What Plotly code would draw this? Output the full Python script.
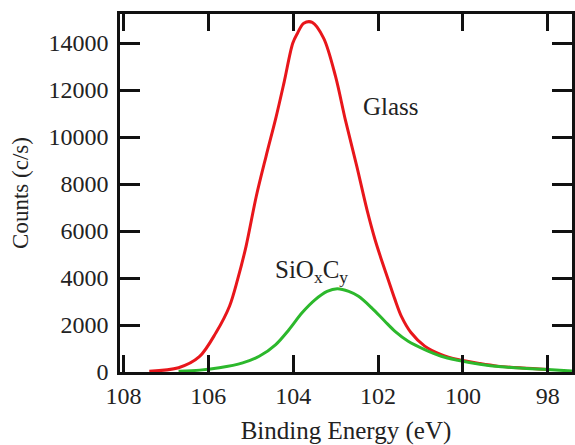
import plotly.graph_objects as go

# Glass spectrum (red)
glass_energy = [107.39, 106.70, 106.21, 105.82, 105.50, 105.31, 105.11, 104.87, 104.64, 104.40,
                104.21, 104.01, 103.90, 103.75, 103.55, 103.28, 103.00, 102.77, 102.50, 102.26,
                102.07, 101.92, 101.76, 101.60, 101.45, 101.22, 100.90, 100.51, 100.12, 99.60,
                99.18, 98.60, 98.00]
glass_counts = [30, 180, 650, 1670, 2800, 3930, 5350, 7470, 9170, 10870,
                12360, 13990, 14410, 14840, 14880, 14200, 12570, 10730, 8750, 6900,
                5630, 4780, 3930, 3080, 2370, 1670, 1100, 740, 530, 360,
                250, 170, 110]

# SiOxCy spectrum (green)
sioc_energy = [106.70, 106.20, 105.74, 105.19, 104.80, 104.41, 104.10, 103.79, 103.48, 103.20,
               102.96, 102.69, 102.46, 102.15, 101.84, 101.60, 101.29, 100.90, 100.51, 100.12,
               99.60, 99.10, 98.50, 98.00, 97.43]
sioc_counts = [30, 80, 180, 390, 670, 1170, 1800, 2520, 3080, 3430,
               3540, 3430, 3220, 2730, 2160, 1730, 1310, 955, 670, 500,
               330, 220, 150, 106, 40]

x_ticks = [108, 106, 104, 102, 100, 98]
y_ticks = [0, 2000, 4000, 6000, 8000, 10000, 12000, 14000]

FONT = "Liberation Serif, Times New Roman, serif"
TXT = "#222222"

fig = go.Figure()
fig.add_trace(go.Scatter(x=glass_energy, y=glass_counts, mode="lines",
                         line=dict(color="#e8161b", width=3, shape="spline", smoothing=0.9),
                         name="Glass", showlegend=False))
fig.add_trace(go.Scatter(x=sioc_energy, y=sioc_counts, mode="lines",
                         line=dict(color="#2cb82c", width=3, shape="spline", smoothing=0.9),
                         name="SiOxCy", showlegend=False))

fig.add_annotation(x=101.70, y=11283, text="Glass", showarrow=False,
                   font=dict(family=FONT, size=25, color=TXT))
fig.add_annotation(x=103.56, y=4270, text="SiO<sub>x</sub>C<sub>y</sub>", showarrow=False,
                   font=dict(family=FONT, size=25, color=TXT))

fig.update_layout(
    width=575, height=445,
    margin=dict(l=120, r=0, t=14, b=73),
    paper_bgcolor="white", plot_bgcolor="white",
    font=dict(family=FONT, size=22, color=TXT),
    xaxis=dict(range=[108.08, 97.43], tickvals=x_ticks, ticktext=[str(v) for v in x_ticks],
               ticks="inside", ticklen=17, tickwidth=2.5, tickcolor="#111",
               showline=True, linewidth=2.5, linecolor="#111", mirror="ticks",
               showgrid=False, zeroline=False,
               tickfont=dict(family=FONT, size=24, color=TXT),
               title=dict(text="Binding Energy (eV)", font=dict(family=FONT, size=25, color=TXT), standoff=16)),
    yaxis=dict(range=[0, 15236], tickvals=y_ticks, ticktext=[str(v) for v in y_ticks],
               ticks="inside", ticklen=20, tickwidth=2.5, tickcolor="#111",
               showline=True, linewidth=2.5, linecolor="#111", mirror="ticks",
               showgrid=False, zeroline=False, ticklabelstandoff=4,
               tickfont=dict(family=FONT, size=24, color=TXT),
               title=dict(text="Counts (c/s)", font=dict(family=FONT, size=23, color=TXT), standoff=14)),
)

fig.write_html("out.html", config={"displayModeBar": False},
               post_script="document.body.style.margin='0';document.body.style.padding='0';")
